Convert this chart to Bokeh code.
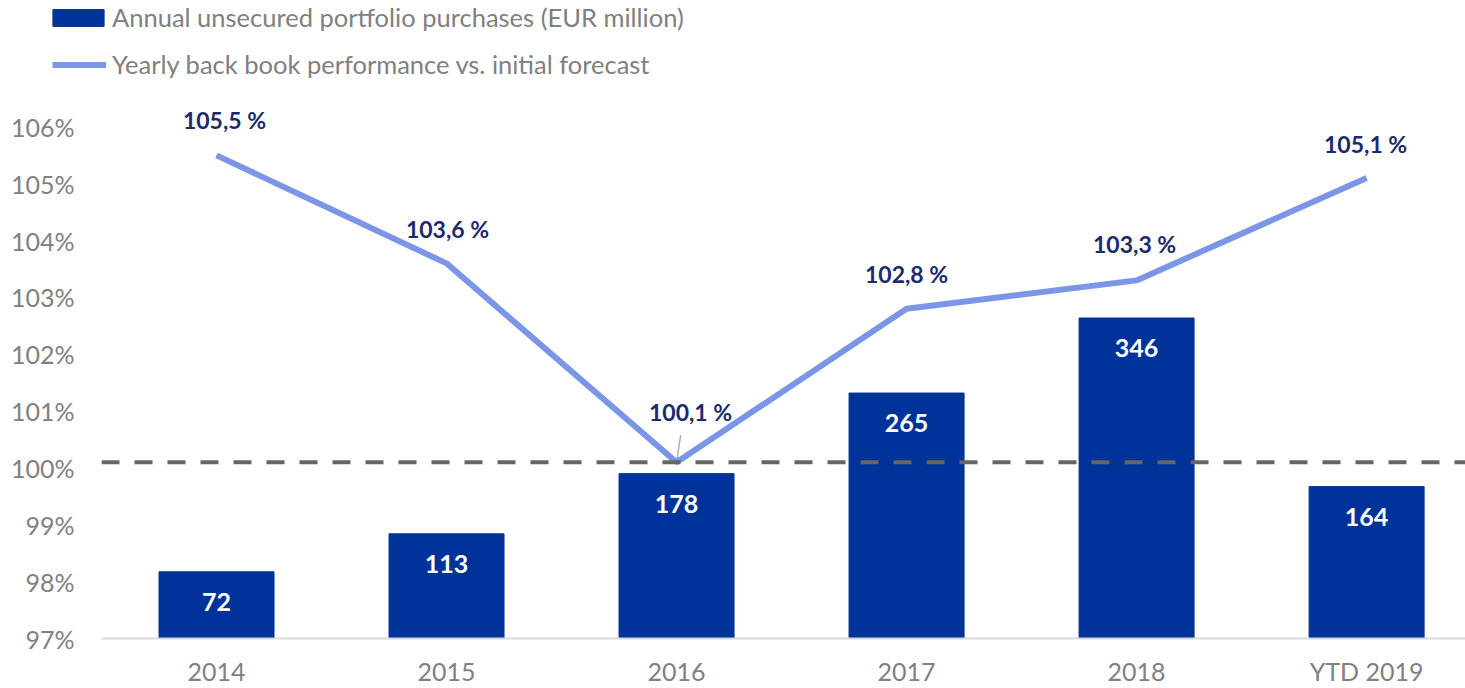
from bokeh.plotting import figure
from bokeh.layouts import column
from bokeh.models import (Range1d, FixedTicker, CustomJSTickFormatter,
                          Span, Legend, LegendItem, ColumnDataSource)
from bokeh.core.properties import value
from bokeh.embed import file_html
from bokeh.resources import INLINE

categories = ["2014", "2015", "2016", "2017", "2018", "YTD 2019"]
purchases = [72, 113, 178, 265, 346, 164]
performance = [105.5, 103.6, 100.1, 102.8, 103.3, 105.1]
perf_labels = ["105,5 %", "103,6 %", "100,1 %", "102,8 %", "103,3 %", "105,1 %"]
baseline = 100.1
y_ticks = [97, 98, 99, 100, 101, 102, 103, 104, 105, 106]
bar_series_name = "Annual unsecured portfolio purchases (EUR million)"
line_series_name = "Yearly back book performance vs. initial forecast"

FONT = "Lato"
BAR_COLOR = "#003399"
LINE_COLOR = "#7b96e6"
LABEL_COLOR = "#1b2a6b"
GRAY = "#808080"

xs = list(range(len(categories)))
nan = float("nan")

# ---------- legend strip ----------
top = figure(width=1465, height=98, output_backend="svg", toolbar_location=None,
             x_range=Range1d(0, 1), y_range=Range1d(0, 1),
             x_axis_location=None, y_axis_location=None,
             min_border_left=0, min_border_right=0, min_border_top=0, min_border_bottom=0)
top.frame_align = False
top.outline_line_color = None
top.xgrid.visible = False
top.ygrid.visible = False
# legend-only renderers (no visible data)
leg_bar = top.vbar(x=[nan], top=[nan], width=0.5, fill_color=BAR_COLOR, line_color=BAR_COLOR)
leg_line = top.line(x=[nan, nan], y=[nan, nan], line_color=LINE_COLOR, line_width=6)

common = dict(orientation="vertical", label_height=22, padding=0, margin=0,
              border_line_color=None, background_fill_alpha=0,
              label_text_font=FONT, label_text_font_size="25.5px", label_text_color=GRAY)
legend1 = Legend(items=[LegendItem(label=bar_series_name, renderers=[leg_bar])],
                 location=(46, 66), glyph_width=64, glyph_height=21, label_standoff=2, **common)
legend2 = Legend(items=[LegendItem(label=line_series_name, renderers=[leg_line])],
                 location=(52, 19), glyph_width=54, glyph_height=17, label_standoff=6, **common)
top.add_layout(legend1)
top.add_layout(legend2)

# ---------- main chart ----------
p = figure(width=1465, height=590, output_backend="svg", toolbar_location=None,
           x_range=Range1d(-0.5, 5.43), y_range=Range1d(97, 106.5),
           min_border_left=101, min_border_right=0, min_border_top=0, min_border_bottom=50)
p.frame_align = False
p.extra_y_ranges = {"bars": Range1d(0, 583)}
p.outline_line_color = None
p.xgrid.visible = False
p.ygrid.visible = False

p.yaxis.ticker = FixedTicker(ticks=y_ticks)
p.yaxis.formatter = CustomJSTickFormatter(code="return tick + '%'")
p.yaxis.axis_line_color = None
p.yaxis.major_tick_line_color = None
p.yaxis.minor_tick_line_color = None
p.yaxis.major_label_text_font = FONT
p.yaxis.major_label_text_font_size = "25px"
p.yaxis.major_label_text_color = GRAY
p.yaxis.major_label_standoff = 21

p.xaxis.ticker = FixedTicker(ticks=xs)
p.xaxis.major_label_overrides = {i: c for i, c in enumerate(categories)}
p.xaxis.axis_line_color = "#d9d9d9"
p.xaxis.axis_line_width = 2
p.xaxis.major_tick_line_color = None
p.xaxis.minor_tick_line_color = None
p.xaxis.major_label_text_font = FONT
p.xaxis.major_label_text_font_size = "25px"
p.xaxis.major_label_text_color = GRAY
p.xaxis.major_label_standoff = 11

src = ColumnDataSource(dict(x=xs, cat=categories, purchases=purchases,
                            pl=[str(v) for v in purchases],
                            perf=performance, perf_lab=perf_labels,
                            dx=[8, 1, 14, 0, -2, -1], dy=[-35, -34, -50, -35, -36, -34]))

bars = p.vbar(x="x", top="purchases", width=0.5, bottom=0, source=src,
              y_range_name="bars", fill_color=BAR_COLOR, line_color=BAR_COLOR)

span = Span(location=baseline, dimension="width", line_color="#666666",
            line_width=4, line_dash="18 15")
p.add_layout(span)

# leader line for 2016 label
i16 = 2
p.segment(x0=[xs[i16]], y0=[performance[i16]], x1=[xs[i16] + 0.018],
          y1=[performance[i16] + 0.48], line_color="#b0b0b0", line_width=1.5)

line = p.line(x="x", y="perf", source=src, line_color=LINE_COLOR, line_width=6)

p.text(x="x", y="purchases", text="pl", source=src, y_range_name="bars",
       y_offset=30, text_align="center", text_baseline="middle",
       text_color="white", text_font=value(FONT), text_font_size="25px",
       text_font_style="bold")

p.text(x="x", y="perf", text="perf_lab", source=src, x_offset="dx", y_offset="dy",
       text_align="center", text_baseline="middle",
       text_color=LABEL_COLOR, text_font=value(FONT), text_font_size="23px",
       text_font_style="bold")

layout = column(top, p, spacing=0)
open("out.html", "w").write(file_html(layout, INLINE))
